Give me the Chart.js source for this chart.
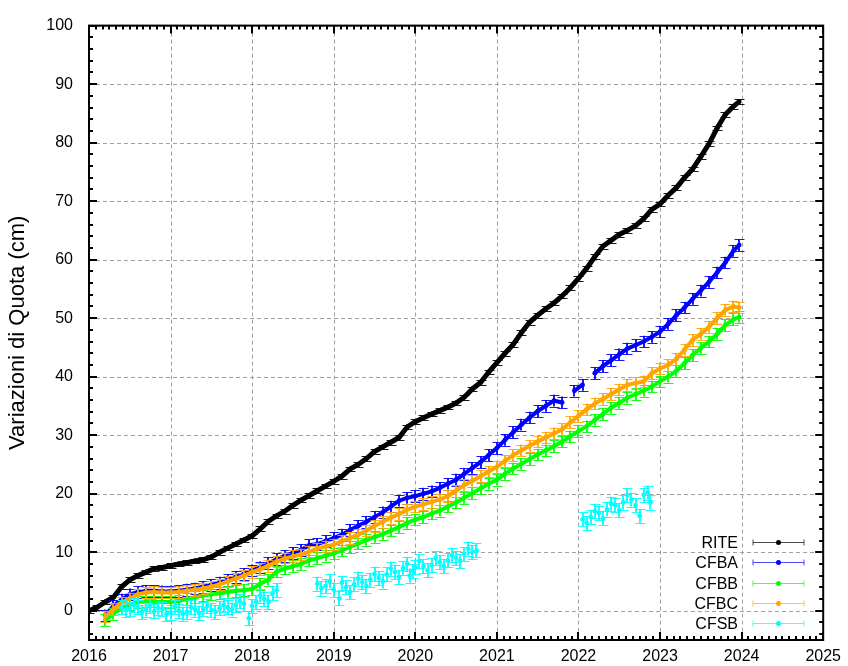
<!DOCTYPE html>
<html>
<head>
<meta charset="utf-8">
<script src="https://cdn.jsdelivr.net/npm/chart.js@4/dist/chart.umd.min.js"></script>
<style>
html,body{margin:0;padding:0;background:#fff;}
#wrap{width:848px;height:666px;}
</style>
</head>
<body>
<div id="wrap"><canvas id="c" width="848" height="666"></canvas></div>
<script>
// ---- tick labels ----
const xTickYears = [2016, 2017, 2018, 2019, 2020, 2021, 2022, 2023, 2024, 2025];
const yTickValues = [0, 10, 20, 30, 40, 50, 60, 70, 80, 90, 100];

// ---- series names ----
const seriesNames = ['RITE', 'CFBA', 'CFBB', 'CFBC', 'CFSB'];

// ---- RITE ----
const riteYears = [2016.0,2016.1,2016.2,2016.3,2016.4,2016.5,2016.6,2016.7,2016.8,2016.9,
  2017.0,2017.1,2017.2,2017.3,2017.4,2017.5,2017.6,2017.7,2017.8,2017.9,
  2018.0,2018.1,2018.2,2018.3,2018.4,2018.5,2018.6,2018.7,2018.8,2018.9,
  2019.0,2019.1,2019.2,2019.3,2019.4,2019.5,2019.6,2019.7,2019.8,2019.9,
  2020.0,2020.1,2020.2,2020.3,2020.4,2020.5,2020.6,2020.7,2020.8,2020.9,
  2021.0,2021.1,2021.2,2021.3,2021.4,2021.5,2021.6,2021.7,2021.8,2021.9,
  2022.0,2022.1,2022.2,2022.3,2022.4,2022.5,2022.6,2022.7,2022.8,2022.9,
  2023.0,2023.1,2023.2,2023.3,2023.4,2023.5,2023.6,2023.7,2023.8,2023.9,2023.97];
const riteValues = [0.0,0.6,1.5,2.3,4.1,5.3,6.0,6.6,7.2,7.4,
  7.7,8.0,8.2,8.5,8.7,9.2,10.0,10.7,11.4,12.1,
  12.8,14.0,15.3,16.2,17.0,18.0,18.9,19.7,20.5,21.3,
  22.1,23.0,24.2,25.0,26.0,27.2,28.0,28.8,29.6,31.4,
  32.3,33.0,33.6,34.2,34.8,35.5,36.5,37.9,39.0,40.8,
  42.4,44.0,45.5,47.5,49.3,50.5,51.6,52.6,53.8,55.2,
  56.8,58.5,60.5,62.3,63.3,64.3,65.0,65.8,67.0,68.6,
  69.5,71.0,72.3,74.0,75.5,77.6,79.8,82.5,84.8,86.2,87.0];

// ---- CFBA ----
const cfbaYears = [2016.2,2016.3,2016.4,2016.5,2016.6,2016.7,2016.8,2016.9,
  2017.0,2017.1,2017.2,2017.3,2017.4,2017.5,2017.6,2017.7,2017.8,2017.9,
  2018.0,2018.1,2018.2,2018.3,2018.4,2018.5,2018.6,2018.7,2018.8,2018.9,
  2019.0,2019.1,2019.2,2019.3,2019.4,2019.5,2019.6,2019.7,2019.8,2019.9,
  2020.0,2020.1,2020.2,2020.3,2020.4,2020.5,2020.6,2020.7,2020.8,2020.9,
  2021.0,2021.1,2021.2,2021.3,2021.4,2021.5,2021.6,2021.7,2021.8,
  2021.87,2021.95,2022.05,2022.12,
  2022.2,2022.3,2022.4,2022.5,2022.6,2022.7,2022.8,2022.9,
  2023.0,2023.1,2023.2,2023.3,2023.4,2023.5,2023.6,2023.7,2023.8,2023.9,2023.97];
const cfbaValues = [-0.8,0.8,1.9,2.8,3.2,3.4,3.4,3.3,
  3.3,3.4,3.6,3.8,4.1,4.4,4.8,5.3,5.8,6.3,
  6.9,7.4,8.1,8.8,9.4,9.9,10.4,11.2,11.4,11.9,
  12.4,13.0,13.8,14.5,15.2,16.0,16.8,17.8,18.8,19.3,
  19.6,20.0,20.4,21.0,21.7,22.4,23.4,24.4,25.4,26.6,
  27.8,29.2,30.5,31.8,33.0,34.1,35.0,35.9,35.6,
  null,37.6,38.6,null,
  40.6,41.8,42.8,43.8,44.8,45.4,46.0,46.8,
  47.7,49.0,50.5,51.8,53.3,54.7,56.2,57.8,59.5,61.5,62.5];

// ---- CFBB ----
const cfbbYears = [2016.2,2016.3,2016.4,2016.5,2016.6,2016.7,2016.8,2016.9,
  2017.0,2017.1,2017.2,2017.3,2017.4,2017.5,2017.6,2017.7,2017.8,2017.9,
  2018.0,2018.1,2018.2,2018.3,2018.4,2018.5,2018.6,2018.7,2018.8,2018.9,
  2019.0,2019.1,2019.2,2019.3,2019.4,2019.5,2019.6,2019.7,2019.8,2019.9,
  2020.0,2020.1,2020.2,2020.3,2020.4,2020.5,2020.6,2020.7,2020.8,2020.9,
  2021.0,2021.1,2021.2,2021.3,2021.4,2021.5,2021.6,2021.7,2021.8,2021.9,
  2022.0,2022.1,2022.2,2022.3,2022.4,2022.5,2022.6,2022.7,2022.8,2022.9,
  2023.0,2023.1,2023.2,2023.3,2023.4,2023.5,2023.6,2023.7,2023.8,2023.9,2023.97];
const cfbbValues = [-1.6,-0.5,0.5,1.1,1.5,1.6,1.6,1.5,
  1.5,1.7,2.0,2.3,2.6,2.8,3.0,3.2,3.4,3.5,
  3.7,4.6,5.3,6.7,7.2,7.6,8.0,8.6,9.0,9.4,
  9.8,10.3,10.9,11.5,12.1,12.6,13.1,13.7,14.3,15.0,
  15.6,16.0,16.6,17.1,17.8,18.5,19.3,20.1,20.9,21.7,
  22.4,23.4,24.3,25.1,25.9,26.7,27.4,28.1,28.9,29.8,
  30.7,31.5,32.6,33.6,34.7,35.5,36.4,37.0,37.6,38.3,
  39.2,40.0,41.0,42.3,43.7,44.9,46.0,47.3,48.8,49.8,50.2];

// ---- CFBC ----
const cfbcYears = cfbbYears.slice();
const cfbcValues = [-1.0,0.3,1.4,2.1,2.8,3.1,3.2,3.1,
  3.1,3.2,3.4,3.6,3.8,4.1,4.5,5.0,5.5,6.0,
  6.6,7.1,7.7,8.4,8.9,9.3,9.6,10.1,10.6,11.0,
  11.3,11.9,12.4,13.0,13.7,14.5,15.2,15.9,16.5,17.3,
  17.8,18.2,18.6,19.0,19.6,20.5,21.5,22.2,23.0,23.8,
  24.6,25.6,26.6,27.4,28.2,28.9,29.6,30.3,31.0,32.2,
  33.3,34.4,35.4,36.2,37.0,37.8,38.6,38.9,39.2,40.6,
  41.4,42.0,43.0,44.6,46.3,47.3,48.5,50.0,51.4,52.0,51.8];

// ---- CFSB ----
const cfsbYears = [2016.4,2016.45,2016.5,2016.55,2016.6,2016.65,2016.7,2016.75,2016.8,2016.85,2016.9,2016.95,
  2017.0,2017.05,2017.1,2017.15,2017.2,2017.25,2017.3,2017.35,2017.4,2017.45,2017.5,2017.55,
  2017.6,2017.65,2017.7,2017.75,2017.8,2017.85,2017.9,2017.96,2018.0,2018.05,2018.1,2018.15,2018.2,2018.25,2018.3,
  2018.8,2018.85,2018.9,2018.95,2019.0,2019.07,2019.1,2019.15,2019.2,2019.25,2019.3,2019.35,2019.4,2019.45,
  2019.5,2019.55,2019.6,2019.65,2019.7,2019.75,2019.8,2019.85,2019.9,2019.93,2019.97,
  2020.0,2020.05,2020.1,2020.15,2020.2,2020.25,2020.3,2020.35,2020.4,2020.45,2020.5,2020.55,2020.6,2020.65,2020.7,2020.75,
  2022.05,2022.1,2022.15,2022.2,2022.25,2022.3,2022.35,2022.4,2022.45,2022.5,2022.55,2022.6,2022.65,2022.7,2022.75,2022.8,2022.85,2022.88];
const cfsbValues = [0.6,0.1,0.3,1.0,0.6,-0.2,0.2,0.8,-0.1,0.5,0.3,-0.6,
  -0.3,0.7,0.0,-0.5,-0.2,0.6,0.2,-0.4,0.3,0.8,0.1,-0.2,
  0.4,1.0,0.6,0.2,0.9,1.6,1.2,-1.3,0.8,1.5,2.6,2.0,1.5,3.0,3.5,
  4.6,3.8,4.2,5.0,3.6,2.1,4.8,4.0,3.2,4.5,5.5,4.9,4.2,5.3,
  6.3,5.6,5.0,6.2,7.2,6.6,5.8,7.3,8.0,6.0,6.8,
  7.4,8.5,7.6,6.9,7.8,9.0,8.3,7.6,8.6,9.5,9.0,8.5,9.7,10.6,10.0,10.3,
  15.6,15.0,16.0,17.0,16.7,15.8,17.3,18.3,18.0,17.2,18.5,19.8,19.0,18.0,16.2,19.8,20.2,18.5];

// ---- error bar half-widths (cm) ----
const errRite = 0.4, errCfba = 1.0, errCfbb = 1.0, errCfbc = 1.0, errCfsb = 1.2;

const colors = ['#000000', '#0000ff', '#00ff00', '#ffa500', '#00ffff'];

function pts(xs, ys) { return xs.map((x, i) => ({ x: x, y: ys[i] })); }

const seriesData = [
  pts(riteYears, riteValues), pts(cfbaYears, cfbaValues), pts(cfbbYears, cfbbValues),
  pts(cfbcYears, cfbcValues), pts(cfsbYears, cfsbValues)
];
const errs = [errRite, errCfba, errCfbb, errCfbc, errCfsb];
const lineWidths = [5, 4, 4, 4, 0];

const datasets = seriesNames.map((name, i) => ({
  label: name,
  data: seriesData[i],
  borderColor: colors[i],
  backgroundColor: colors[i],
  showLine: lineWidths[i] > 0,
  borderWidth: lineWidths[i],
  pointRadius: 2.4,
  pointBorderWidth: 0,
  spanGaps: false,
  err: errs[i],
  order: 5 - i
}));

const FONT = '"Liberation Sans", Arial, sans-serif';

const gridPlugin = {
  id: 'gnugrid',
  beforeDatasetsDraw(chart) {
    const { ctx, chartArea: a, scales: { x, y } } = chart;
    ctx.save();
    ctx.strokeStyle = '#a0a0a0';
    ctx.lineWidth = 1;
    ctx.setLineDash([4, 3]);
    xTickYears.forEach(v => {
      const px = Math.round(x.getPixelForValue(v)) + 0.5;
      ctx.beginPath(); ctx.moveTo(px, a.top); ctx.lineTo(px, a.bottom); ctx.stroke();
    });
    yTickValues.forEach(v => {
      const py = Math.round(y.getPixelForValue(v)) + 0.5;
      ctx.beginPath(); ctx.moveTo(a.left, py); ctx.lineTo(a.right, py); ctx.stroke();
    });
    ctx.restore();
  }
};

const errorBarPlugin = {
  id: 'errbars',
  beforeDatasetDraw(chart, args) {
    const ds = chart.data.datasets[args.index];
    const meta = args.meta;
    const ys = chart.scales.y;
    const { ctx, chartArea: a } = chart;
    const cap = 5;
    ctx.save();
    ctx.beginPath(); ctx.rect(a.left, a.top, a.right - a.left, a.bottom - a.top); ctx.clip();
    ctx.strokeStyle = ds.borderColor;
    ctx.globalAlpha = 0.9;
    ctx.lineWidth = 1;
    ctx.beginPath();
    meta.data.forEach((el, i) => {
      const d = ds.data[i];
      if (d.y === null || d.y === undefined) return;
      const x = Math.round(el.x) + 0.5;
      const t = Math.round(ys.getPixelForValue(d.y + ds.err)) + 0.5;
      const b = Math.round(ys.getPixelForValue(d.y - ds.err)) + 0.5;
      ctx.moveTo(x - cap, t); ctx.lineTo(x + cap, t);
      ctx.moveTo(x - cap, b); ctx.lineTo(x + cap, b);
    });
    ctx.stroke();
    ctx.lineWidth = 2;
    ctx.beginPath();
    meta.data.forEach((el, i) => {
      const d = ds.data[i];
      if (d.y === null || d.y === undefined) return;
      const x = Math.round(el.x);
      const t = ys.getPixelForValue(d.y + ds.err);
      const b = ys.getPixelForValue(d.y - ds.err);
      ctx.moveTo(x, t); ctx.lineTo(x, b);
    });
    ctx.stroke();
    ctx.restore();
  }
};

const framePlugin = {
  id: 'gnuframe',
  afterDatasetsDraw(chart) {
    const { ctx, chartArea: a, scales: { x, y } } = chart;
    ctx.save();
    ctx.strokeStyle = '#000';
    ctx.setLineDash([]);
    ctx.lineWidth = 2;
    ctx.beginPath();
    const x0 = xTickYears[0], x1 = xTickYears[xTickYears.length - 1];
    for (let m = 0; m <= (x1 - x0) * 12; m++) {
      const px = Math.round(x.getPixelForValue(x0 + m / 12));
      const len = (m % 12 === 0) ? 8 : 4;
      ctx.moveTo(px, a.bottom); ctx.lineTo(px, a.bottom - len);
      ctx.moveTo(px, a.top); ctx.lineTo(px, a.top + len);
    }
    for (let v = -4; v <= 100; v += 2) {
      const py = Math.round(y.getPixelForValue(v));
      const len = (v % 10 === 0) ? 8 : 4;
      ctx.moveTo(a.left, py); ctx.lineTo(a.left + len, py);
      ctx.moveTo(a.right, py); ctx.lineTo(a.right - len, py);
    }
    ctx.stroke();
    ctx.strokeRect(a.left, a.top, a.right - a.left, a.bottom - a.top);
    ctx.restore();
  }
};

const legendPlugin = {
  id: 'gnulegend',
  afterDraw(chart) {
    const ctx = chart.ctx;
    const textRight = 738, lineL = 753, lineR = 804, dotX = 778.5;
    const y0 = 542, step = 20.3;
    ctx.save();
    ctx.font = '16px ' + FONT;
    ctx.textAlign = 'right';
    ctx.textBaseline = 'middle';
    seriesNames.forEach((name, i) => {
      const yy = Math.round(y0 + i * step) + 0.5;
      ctx.fillStyle = '#000';
      ctx.fillText(name, textRight, yy + 1);
      ctx.strokeStyle = colors[i];
      ctx.globalAlpha = 0.7;
      ctx.lineWidth = 1;
      ctx.beginPath();
      ctx.moveTo(lineL, yy); ctx.lineTo(lineR, yy);
      ctx.moveTo(lineL, yy - 3); ctx.lineTo(lineL, yy + 3);
      ctx.moveTo(lineR, yy - 3); ctx.lineTo(lineR, yy + 3);
      ctx.stroke();
      ctx.globalAlpha = 1;
      ctx.fillStyle = colors[i];
      ctx.beginPath(); ctx.arc(dotX, yy, 2.5, 0, Math.PI * 2); ctx.fill();
    });
    ctx.restore();
  }
};

new Chart(document.getElementById('c'), {
  type: 'scatter',
  data: { datasets: datasets },
  plugins: [gridPlugin, errorBarPlugin, framePlugin, legendPlugin],
  options: {
    responsive: false,
    animation: false,
    layout: { padding: { left: 0, right: 21, top: 22, bottom: 0 } },
    plugins: { legend: { display: false }, tooltip: { enabled: false } },
    scales: {
      x: {
        type: 'linear',
        min: xTickYears[0],
        max: xTickYears[xTickYears.length - 1],
        afterBuildTicks: s => { s.ticks = xTickYears.map(v => ({ value: v })); },
        afterFit: s => { s.height = 26; },
        grid: { display: false, drawTicks: false },
        border: { display: false },
        ticks: {
          padding: 7,
          maxRotation: 0,
          autoSkip: false,
          color: '#000',
          font: { family: FONT, size: 16 },
          callback: v => String(v)
        }
      },
      y: {
        type: 'linear',
        min: -5,
        max: 100,
        afterBuildTicks: s => { s.ticks = yTickValues.map(v => ({ value: v })); },
        afterFit: s => { s.width = 89; },
        grid: { display: false, drawTicks: false },
        border: { display: false },
        title: {
          display: true,
          text: 'Variazioni di Quota (cm)',
          color: '#000',
          font: { family: FONT, size: 22 },
          padding: { top: 5, bottom: 0 }
        },
        ticks: {
          padding: 16,
          color: '#000',
          font: { family: FONT, size: 16 },
          callback: v => String(v)
        }
      }
    }
  }
});
</script>
</body>
</html>
